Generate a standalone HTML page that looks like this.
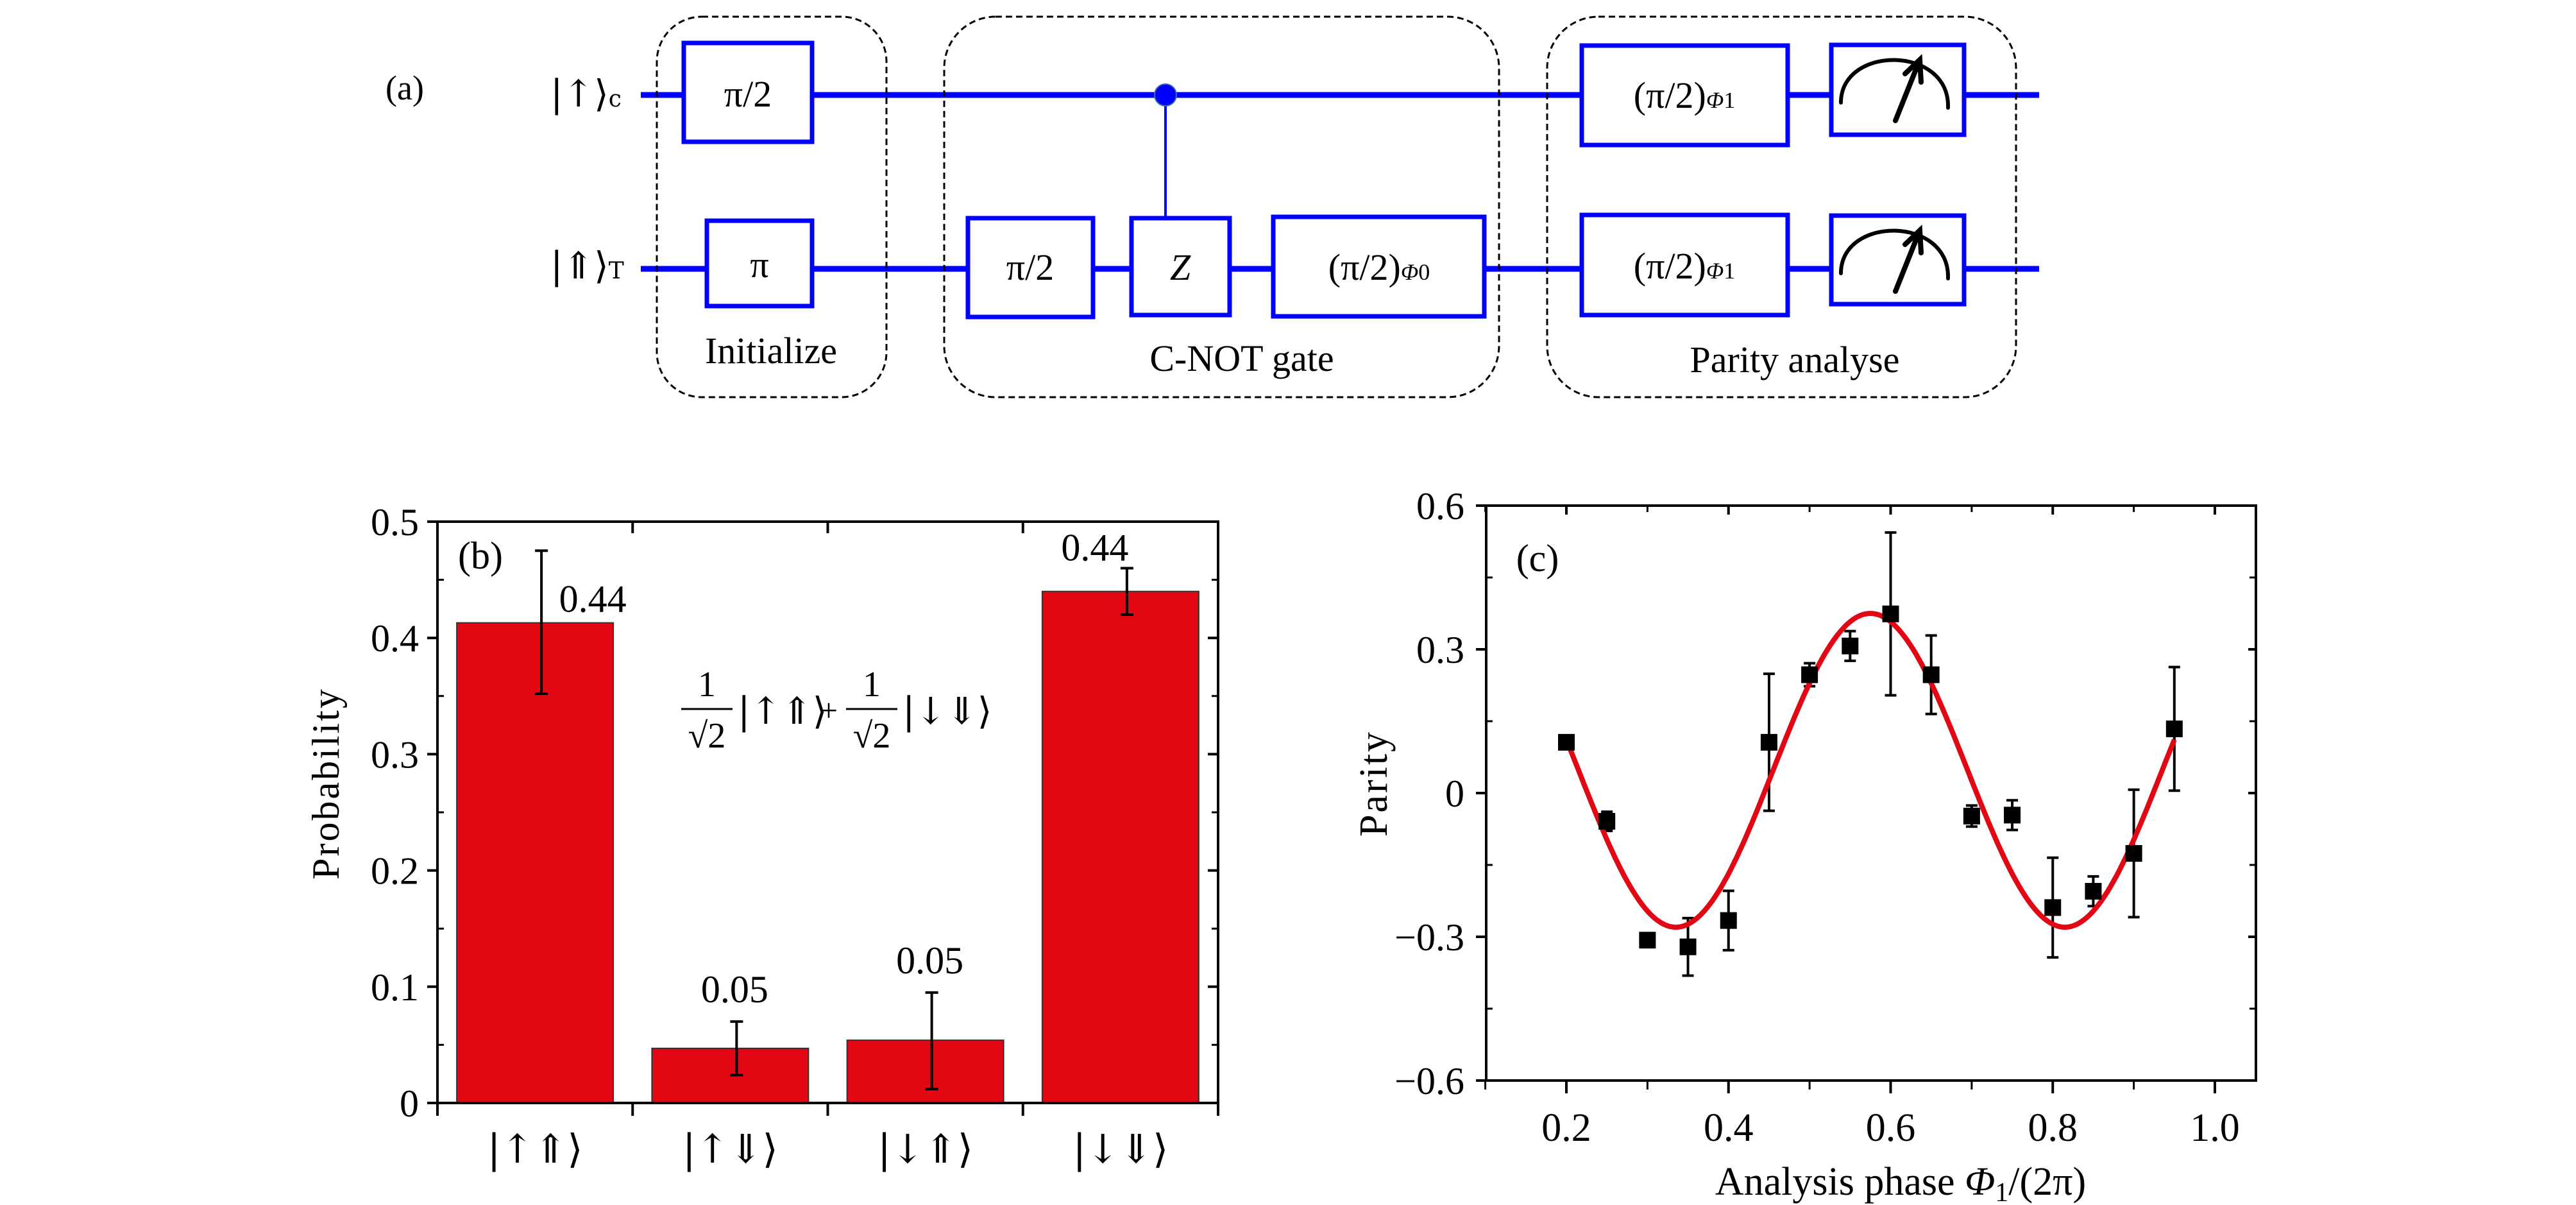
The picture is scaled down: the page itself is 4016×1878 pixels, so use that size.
<!DOCTYPE html>
<html><head><meta charset="utf-8"><style>
html,body{margin:0;padding:0;background:#fff}
svg{display:block}
text{font-family:"Liberation Serif","DejaVu Serif",serif;fill:#000}
.ket{font-family:"DejaVu Serif","Liberation Serif",serif}
</style></head><body>
<svg id="fig" width="4016" height="1878" viewBox="0 0 4016 1878" xmlns="http://www.w3.org/2000/svg">
<g id="circuit">
  <text x="631" y="155" font-size="54" text-anchor="middle">(a)</text>
  <text x="858" y="166" font-size="58" class="ket">|↑⟩<tspan font-size="36">c</tspan></text>
  <text x="858" y="434" font-size="58" class="ket">|⇑⟩<tspan font-size="36">T</tspan></text>
  <line x1="999" y1="148" x2="3179" y2="148" stroke="#0000ff" stroke-width="9"/>
  <line x1="999" y1="419" x2="3179" y2="419" stroke="#0000ff" stroke-width="9"/>
  <g fill="none" stroke="#000" stroke-width="3" stroke-dasharray="10,6">
    <rect x="1024" y="26" width="358" height="593" rx="70"/>
    <rect x="1472" y="26" width="865" height="593" rx="80"/>
    <rect x="2412" y="26" width="731" height="593" rx="80"/>
  </g>
  <line x1="1817" y1="148" x2="1817" y2="337" stroke="#0000ff" stroke-width="4"/>
  <circle cx="1817" cy="148" r="17" fill="#0000ff" stroke="#3a6f9f" stroke-width="2"/>
  <g fill="#fff" stroke="#0000ff" stroke-width="7">
    <rect x="1066" y="67" width="200" height="154"/>
    <rect x="1102" y="344" width="164" height="133"/>
    <rect x="1509" y="340" width="195" height="154"/>
    <rect x="1764" y="340" width="153" height="151"/>
    <rect x="1985" y="338" width="329" height="155"/>
    <rect x="2466" y="71" width="321" height="155"/>
    <rect x="2466" y="335" width="321" height="156"/>
    <rect x="2855" y="70" width="207" height="140"/>
    <rect x="2855" y="336" width="207" height="138"/>
  </g>
  <g font-size="58" text-anchor="middle">
    <text x="1166" y="166">π/2</text>
    <text x="1184" y="432">π</text>
    <text x="1606" y="436">π/2</text>
    <text x="1840" y="436" font-style="italic">Z</text>
    <text x="2150" y="436">(π/2)<tspan font-size="36" font-style="italic">Φ</tspan><tspan font-size="36">0</tspan></text>
    <text x="2626" y="168">(π/2)<tspan font-size="36" font-style="italic">Φ</tspan><tspan font-size="36">1</tspan></text>
    <text x="2626" y="434">(π/2)<tspan font-size="36" font-style="italic">Φ</tspan><tspan font-size="36">1</tspan></text>
  </g>
  <g fill="none" stroke="#000" stroke-linecap="round">
    <path d="M2870,160 C2870,70 3040,70 3037,168" stroke-width="6"/>
    <path d="M2955,188 L2993,93 M2970,115 L2993,93 L2995,128" stroke-width="8"/>
    <path d="M2870,426 C2870,336 3040,336 3037,434" stroke-width="6"/>
    <path d="M2955,454 L2993,359 M2970,381 L2993,359 L2995,394" stroke-width="8"/>
  </g>
  <g font-size="58" text-anchor="middle">
    <text x="1202" y="566">Initialize</text>
    <text x="1936" y="578">C-NOT gate</text>
    <text x="2798" y="580">Parity analyse</text>
  </g>
</g>
<g id="chartb"></g>
<g id="chartc"></g>
</svg>
<script>
const NS="http://www.w3.org/2000/svg";
// Panel b data
const bCategories=["|↑⇑⟩","|↑⇓⟩","|↓⇑⟩","|↓⇓⟩"];
const bValues=[0.413,0.047,0.054,0.44];
const bErrLow=[0.352,0.024,0.012,0.42];
const bErrHigh=[0.475,0.07,0.095,0.46];
const bLabels=["0.44","0.05","0.05","0.44"];
const bYTicks=[0,0.1,0.2,0.3,0.4,0.5];
const bYTickLabels=["0","0.1","0.2","0.3","0.4","0.5"];
// Panel c data
const cX=[0.2,0.25,0.3,0.35,0.4,0.45,0.5,0.55,0.6,0.65,0.7,0.75,0.8,0.85,0.9,0.95];
const cY=[0.106,-0.059,-0.307,-0.321,-0.266,0.106,0.247,0.307,0.374,0.247,-0.048,-0.046,-0.239,-0.205,-0.126,0.134];
const cErr=[0.01,0.02,0.01,0.06,0.062,0.143,0.024,0.031,0.17,0.082,0.022,0.031,0.104,0.031,0.133,0.129];
const cFit=[0.0475,0.3275,0.48,0.575]; // offset, amplitude, period, peak phase
const cXTicks=[0.2,0.4,0.6,0.8,1.0];
const cXTickLabels=["0.2","0.4","0.6","0.8","1.0"];
const cYTicks=[-0.6,-0.3,0,0.3,0.6];
const cYTickLabels=["−0.6","−0.3","0","0.3","0.6"];

function mk(tag,attrs,parent){const e=document.createElementNS(NS,tag);for(const k in attrs)e.setAttribute(k,attrs[k]);parent.appendChild(e);return e;}

// ---- Panel b
(function(){
const g=document.getElementById('chartb');
const L=682,R=1899,T=813,B=1719;
const y=v=>B-(v/0.5)*(B-T);
const slot=(R-L)/bCategories.length;
const cx=i=>L+slot*(i+0.5);
const bw=244;
bValues.forEach((v,i)=>{
  const r=mk('rect',{x:cx(i)-bw/2,y:y(v),width:bw,height:B-y(v),fill:'#e30613',stroke:'#333','stroke-width':2},g);
  
  
});
bValues.forEach((v,i)=>{
  const x=cx(i)+10;
  const e=mk('path',{d:`M${x},${y(bErrLow[i])}V${y(bErrHigh[i])}M${x-10},${y(bErrLow[i])}h20M${x-10},${y(bErrHigh[i])}h20`,stroke:'#000','stroke-width':4,fill:'none'},g);
  
  
  const lx=i===0?cx(i)+90:(i===3?cx(i)-40:cx(i)+7);
  const ly=(i===0?y(bErrHigh[i])+95:(i===3?y(bErrHigh[i])-12:y(bErrHigh[i])-30));
  const t=mk('text',{x:lx,y:ly,'font-size':60,'text-anchor':'middle'},g);
  t.textContent=bLabels[i];
  
  
});
const ax=mk('rect',{x:L,y:T,width:R-L,height:B-T,fill:'none',stroke:'#000','stroke-width':4},g);


bYTicks.forEach((v,i)=>{
  const tk=mk('path',{d:`M${L-16},${y(v)}H${L}M${R-16},${y(v)}H${R}`,stroke:'#000','stroke-width':4},g);
  
  
  const t=mk('text',{x:653,y:y(v)+21,'font-size':60,'text-anchor':'end'},g);
  t.textContent=bYTickLabels[i];
  
  
  if(i<bYTicks.length-1){
    const m=mk('path',{d:`M${L},${y(v+0.05)}h10M${R},${y(v+0.05)}h-10`,stroke:'#000','stroke-width':3},g);
    
    
  }
});
for(let i=1;i<bCategories.length;i++){
  const x=L+slot*i;
  const tk=mk('path',{d:`M${x},${B}v20M${x},${T}v18`,stroke:'#000','stroke-width':4},g);
  
  
}
const e1=mk('path',{d:`M${L},${B}v20M${R},${B}v20`,stroke:'#000','stroke-width':4},g);


bCategories.forEach((c,i)=>{
  const t=mk('text',{x:cx(i),y:1812,'font-size':62,'text-anchor':'middle','class':'ket'},g);
  t.textContent=c;
  
  
});
const yt=mk('text',{x:0,y:0,'font-size':60,'text-anchor':'middle',transform:'translate(528,1221) rotate(-90)','letter-spacing':'3'},g);
yt.textContent='Probability';


const pl=mk('text',{x:749,y:886,'font-size':60,'text-anchor':'middle'},g);
pl.textContent='(b)';


// formula
const f=mk('g',{},g);


[[1102,'|↑⇑⟩'],[1359,'|↓⇓⟩']].forEach(([fx,ket])=>{
  const n=mk('text',{x:fx,y:1085,'font-size':56,'text-anchor':'middle'},f);n.textContent='1';
  mk('line',{x1:fx-40,y1:1105,x2:fx+40,y2:1105,stroke:'#000','stroke-width':3},f);
  const d=mk('text',{x:fx,y:1165,'font-size':56,'text-anchor':'middle'},f);d.textContent='√2';
  const k=mk('text',{x:fx+48,y:1128,'font-size':58,'class':'ket'},f);k.textContent=ket;
});
const pp=mk('text',{x:1292,y:1124,'font-size':50,'text-anchor':'middle'},f);pp.textContent='+';
})();

// ---- Panel c
(function(){
const g=document.getElementById('chartc');
const L=2317,R=3517,T=788,B=1684;
const x=v=>2442+(v-0.2)/0.8*(3453-2442);
const y=v=>1236-v/0.6*(1236-T);
const ax=mk('rect',{x:L,y:T,width:R-L,height:B-T,fill:'none',stroke:'#000','stroke-width':4},g);


cYTicks.forEach((v,i)=>{
  const tk=mk('path',{d:`M${L-16},${y(v)}H${L}M${R-12},${y(v)}H${R}`,stroke:'#000','stroke-width':4},g);
  
  
  const t=mk('text',{x:2283,y:y(v)+21,'font-size':60,'text-anchor':'end'},g);
  t.textContent=cYTickLabels[i];
  
  
  if(i<cYTicks.length-1){
    const m=mk('path',{d:`M${L},${y(v+0.15)}h10M${R},${y(v+0.15)}h-10`,stroke:'#000','stroke-width':3},g);
    
    
  }
});
cXTicks.forEach((v,i)=>{
  const tk=mk('path',{d:`M${x(v)},${B}v20M${x(v)},${T}v14`,stroke:'#000','stroke-width':4},g);
  
  
  const m=mk('path',{d:`M${x(v-0.1)},${B}v14M${x(v-0.1)},${T}v10`,stroke:'#000','stroke-width':3},g);
  
  
  const t=mk('text',{x:x(v),y:1778,'font-size':62,'text-anchor':'middle'},g);
  t.textContent=cXTickLabels[i];
  
  
});
cX.forEach((xv,i)=>{
  const px=x(xv),lo=y(cY[i]-cErr[i]),hi=y(cY[i]+cErr[i]);
  const e=mk('path',{d:`M${px},${lo}V${hi}M${px-9},${lo}h18M${px-9},${hi}h18`,stroke:'#000','stroke-width':4,fill:'none'},g);
  
  
});
let d='';
const x0=cX[0],x1=cX[cX.length-1];
for(let k=0;k<=200;k++){
  const xv=x0+(x1-x0)*k/200;
  const yv=cFit[0]+cFit[1]*Math.cos(2*Math.PI*(xv-cFit[3])/cFit[2]);
  d+=(k?'L':'M')+x(xv).toFixed(1)+','+y(yv).toFixed(1);
}
const fit=mk('path',{d:d,fill:'none',stroke:'#e30613','stroke-width':8},g);


cX.forEach((xv,i)=>{
  const p=mk('rect',{x:x(xv)-13,y:y(cY[i])-13,width:26,height:26,fill:'#000'},g);
  
  
});
const xt=mk('text',{x:2963,y:1862,'font-size':62,'text-anchor':'middle'},g);
xt.innerHTML='Analysis phase <tspan font-style="italic">Φ</tspan><tspan font-size="42" dy="10">1</tspan><tspan dy="-10">/(2π)</tspan>';


const yt=mk('text',{x:0,y:0,'font-size':62,'text-anchor':'middle',transform:'translate(2162,1221) rotate(-90)','letter-spacing':'3'},g);
yt.textContent='Parity';


const pl=mk('text',{x:2397,y:890,'font-size':60,'text-anchor':'middle'},g);
pl.textContent='(c)';


})();
</script>
</body></html>
